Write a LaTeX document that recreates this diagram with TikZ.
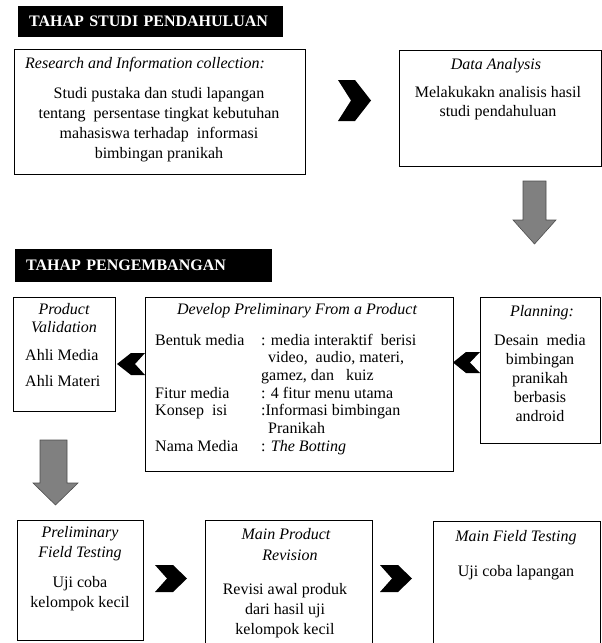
\documentclass[tikz,border=0pt]{standalone}
\usepackage{fontspec}
\setmainfont{Liberation Serif}
\begin{document}
\begin{tikzpicture}[x=1pt, y=-1pt,
    kotak/.style={draw=black, line width=0.3mm, anchor=north west, inner sep=0pt},
    judul/.style={fill=black, text=white, font=\fontsize{16}{20}\selectfont\bfseries, anchor=north west, inner xsep=11pt, inner ysep=0pt, align=left},
    teks/.style={font=\fontsize{16}{20}\selectfont, anchor=base, inner sep=0pt, align=center},
    miring/.style={teks, font=\fontsize{16}{20}\selectfont\itshape},
    panah/.style={fill=black!50, draw=black!70, line width=0.2mm},
    chevron/.style={fill=black}]
    \useasboundingbox (0,0) rectangle (602,643);
    \clip (0,0) rectangle (602,643);
    % tahap studi pendahuluan
    \node[judul, text width=243pt, minimum height=31pt] (hsp) at (18,6) {TAHAP STUDI PENDAHULUAN};
    \node[kotak, minimum width=291pt, minimum height=125pt] (ric) at (14,49) {};
    \node[miring, anchor=base west] (ric-t) at (25,68) {Research and Information collection:};
    \node[teks] (ric-b) at (159,158) {Studi pustaka dan studi lapangan\\tentang~ persentase tingkat kebutuhan\\mahasiswa terhadap~ informasi\\bimbingan pranikah};
    \fill[chevron] (338,80) -- (355,80) -- (371,100.5) -- (355,121) -- (338,121) -- (351,100.5) -- cycle;
    \node[kotak, minimum width=202pt, minimum height=116pt] (da) at (399,50) {};
    \node[miring] (da-t) at (496,69) {Data Analysis};
    \node[teks, font=\fontsize{16}{19}\selectfont] (da-b) at (498,116) {Melakukakn analisis hasil\\studi pendahuluan};
    \draw[panah] (523,181) -- (546,181) -- (546,220) -- (556,220) -- (534.5,244) -- (513,220) -- (523,220) -- cycle;
    % tahap pengembangan
    \node[judul, text width=235pt, minimum height=33pt] (hpg) at (15,249) {TAHAP PENGEMBANGAN};
    \node[kotak, minimum width=102pt, minimum height=114pt] (pv) at (13,297) {};
    \node[miring, font=\fontsize{16}{18}\selectfont\itshape] (pv-t) at (64,332) {Product\\Validation};
    \node[teks, anchor=base west, align=left, font=\fontsize{16}{26}\selectfont] (pv-b) at (25,386) {Ahli Media\\Ahli Materi};
    \fill[chevron] (145,353) -- (131,353) -- (117,364) -- (131,375) -- (145,375) -- (135,364) -- cycle;
    \node[kotak, minimum width=308pt, minimum height=174pt] (dp) at (145,297) {};
    \node[miring] (dp-t) at (297,314) {Develop Preliminary From a Product};
    \node[teks, anchor=base west, font=\fontsize{16}{17.7}\selectfont] (dp-b) at (155,345) {%
      \begin{tabular}[t]{@{}p{106pt}@{}l@{}}
        Bentuk media & : media interaktif~ berisi\\
                     & \hspace{7pt}video,~ audio, materi,\\
                     & gamez, dan~~ kuiz\\
        Fitur media  & : 4 fitur menu utama\\
        Konsep~ isi  & :Informasi bimbingan\\
                     & \hspace{7pt}Pranikah\\
        Nama Media   & : \textit{The Botting}
      \end{tabular}};
    \fill[chevron] (480,352) -- (466,352) -- (453,362.5) -- (466,373) -- (480,373) -- (470,362.5) -- cycle;
    \node[kotak, minimum width=120pt, minimum height=146pt] (pl) at (480,297) {};
    \node[miring] (pl-t) at (542,316) {Planning:};
    \node[teks, font=\fontsize{16}{19}\selectfont] (pl-b) at (540,421) {Desain~ media\\bimbingan\\pranikah\\berbasis\\android};
    \draw[panah] (40,440) -- (67,440) -- (67,483) -- (78,483) -- (55.5,505) -- (33,483) -- (40,483) -- cycle;
    % baris bawah
    \node[kotak, minimum width=126pt, minimum height=120pt] (pft) at (17,520) {};
    \node[miring] (pft-t) at (80,557) {Preliminary\\Field Testing};
    \node[teks] (pft-b) at (80,607) {Uji coba\\kelompok kecil};
    \fill[chevron] (155,565) -- (173,565) -- (187,578.5) -- (173,592) -- (155,592) -- (167,578.5) -- cycle;
    \node[kotak, minimum width=167pt, minimum height=140pt] (mpr) at (205,520) {};
    \node[miring, font=\fontsize{16}{21}\selectfont\itshape] (mpr-t) at (286,560) {Main Product\\\hspace{8pt}Revision};
    \node[teks] (mpr-b) at (285,634) {Revisi awal produk\\dari hasil uji\\kelompok kecil};
    \fill[chevron] (380,565) -- (398,565) -- (412,578.5) -- (398,592) -- (380,592) -- (392,578.5) -- cycle;
    \node[kotak, minimum width=167pt, minimum height=140pt] (mft) at (433,521) {};
    \node[miring] (mft-t) at (516,541) {Main Field Testing};
    \node[teks] (mft-b) at (516,576) {Uji coba lapangan};
\end{tikzpicture}
\end{document}
